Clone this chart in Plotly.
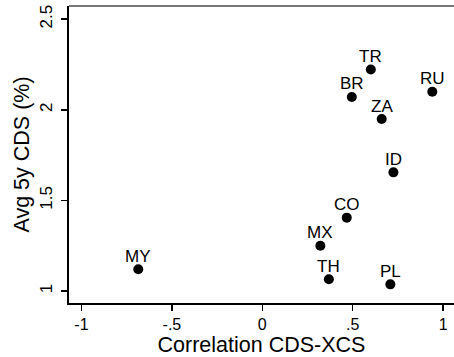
import plotly.graph_objects as go

countries = ["TR", "RU", "BR", "ZA", "ID", "CO", "MX", "MY", "TH", "PL"]
corr_cds_xcs = [0.600, 0.940, 0.495, 0.660, 0.725, 0.467, 0.321, -0.686, 0.368, 0.708]
avg_5y_cds = [2.223, 2.100, 2.071, 1.949, 1.655, 1.405, 1.250, 1.120, 1.065, 1.037]

x_ticks = [-1, -0.5, 0, 0.5, 1]
x_tick_labels = ["-1", "-.5", "0", ".5", "1"]
y_ticks = [1, 1.5, 2, 2.5]
y_tick_labels = ["1", "1.5", "2", "2.5"]

font_family = "Liberation Sans, Arial, sans-serif"

fig = go.Figure(
    go.Scatter(
        x=corr_cds_xcs,
        y=avg_5y_cds,
        mode="markers",
        marker=dict(color="black", size=10),
        hoverinfo="skip",
    )
)

annotations = [
    dict(x=cx, y=cy, xref="x", yref="y", text=name, showarrow=False,
         yshift=13, xanchor="center", yanchor="middle",
         font=dict(family=font_family, size=17, color="black"))
    for name, cx, cy in zip(countries, corr_cds_xcs, avg_5y_cds)
]

fig.update_layout(
    width=454,
    height=357,
    margin=dict(l=69, r=0, t=6, b=54),
    paper_bgcolor="white",
    plot_bgcolor="white",
    showlegend=False,
    font=dict(family=font_family, color="black"),
    annotations=annotations,
    shapes=[
        dict(type="line", xref="paper", yref="paper", x0=0, x1=1, y0=1, y1=1,
             line=dict(color="#777777", width=2))
    ],
)

fig.update_xaxes(
    range=[-1.069, 1.060],
    tickvals=x_ticks,
    ticktext=x_tick_labels,
    tickfont=dict(size=16),
    ticks="outside",
    ticklen=6,
    tickwidth=1.5,
    tickcolor="black",
    showline=True,
    linecolor="black",
    linewidth=2,
    showgrid=False,
    zeroline=False,
    title=dict(text="Correlation CDS-XCS", font=dict(size=21.5), standoff=6),
)

fig.update_yaxes(
    range=[0.934, 2.573],
    tickvals=y_ticks,
    ticktext=y_tick_labels,
    tickangle=-90,
    tickfont=dict(size=17),
    ticks="outside",
    ticklen=6,
    tickwidth=1.5,
    tickcolor="black",
    ticklabelstandoff=2,
    showline=True,
    linecolor="black",
    linewidth=2,
    showgrid=False,
    zeroline=False,
    title=dict(text="Avg 5y CDS (%)", font=dict(size=21.5), standoff=2),
)

fig.write_html(
    "out.html",
    config={"displayModeBar": False, "staticPlot": True},
    post_script="document.body.style.margin='0';document.body.style.padding='0';",
)
